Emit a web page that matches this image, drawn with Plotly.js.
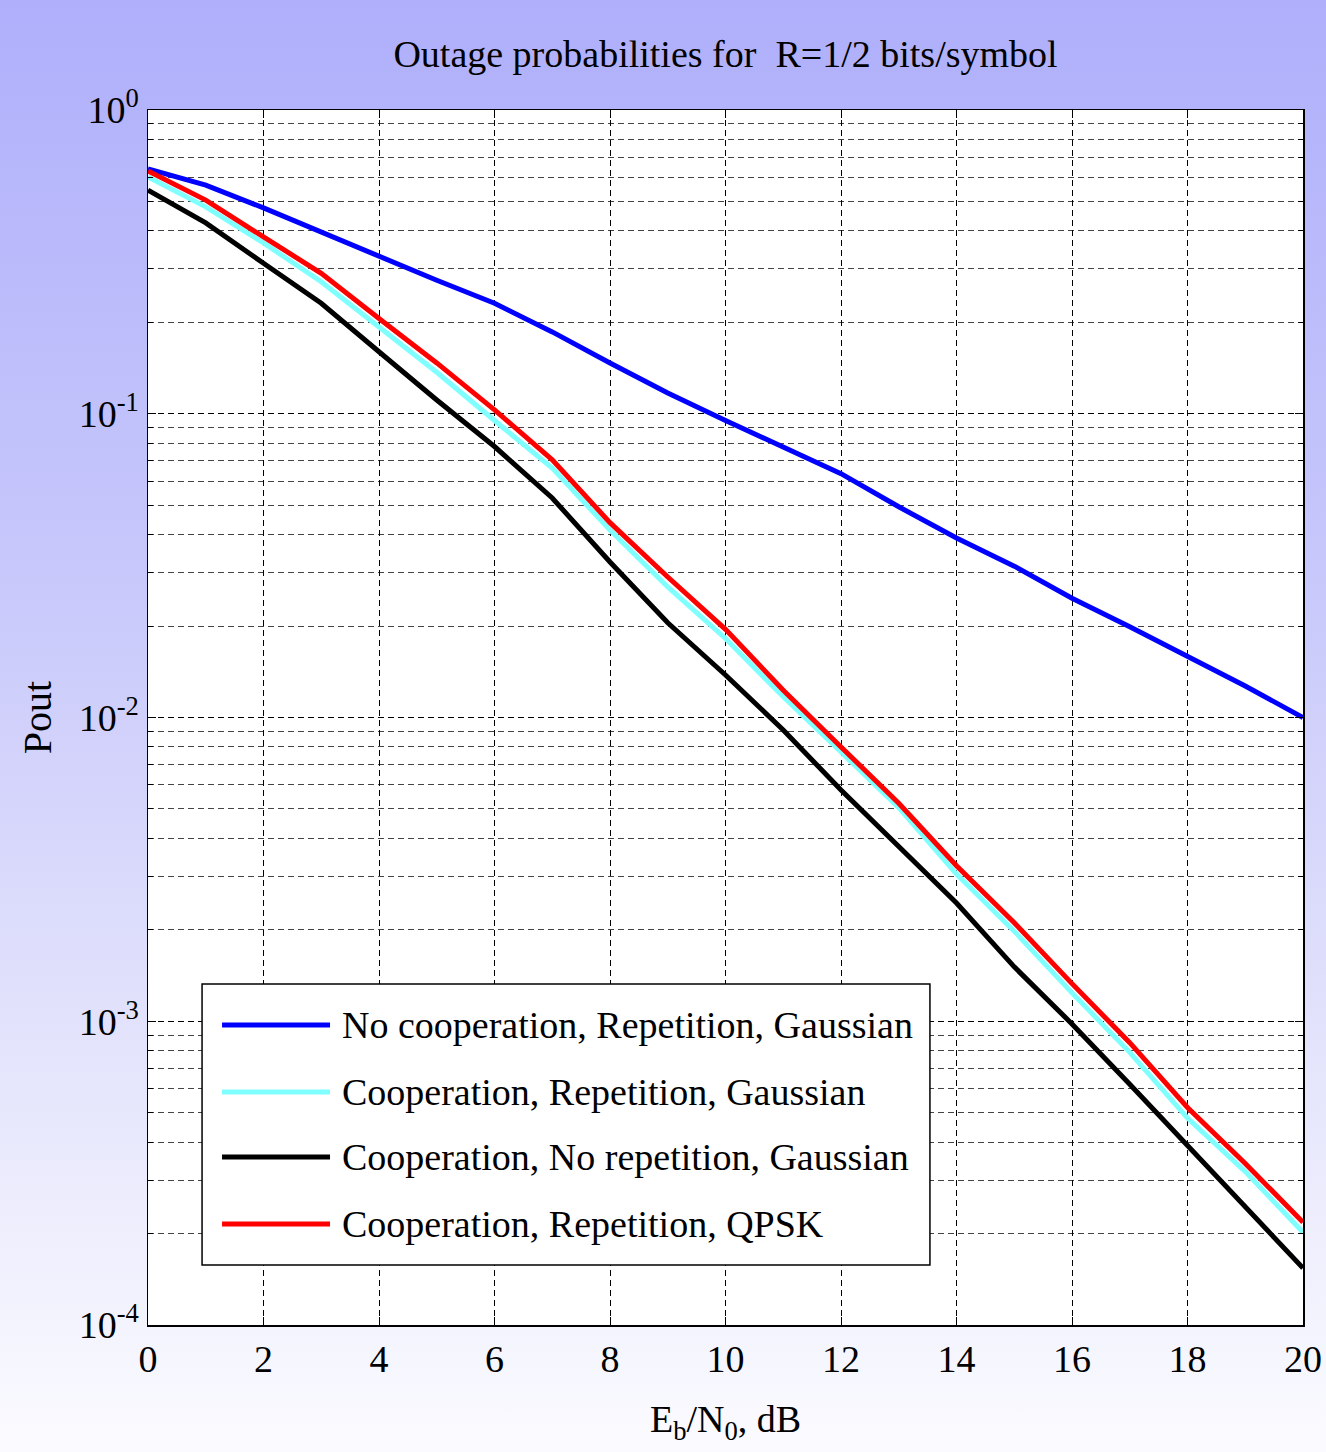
<!DOCTYPE html>
<html>
<head>
<meta charset="utf-8">
<script src="https://cdn.plot.ly/plotly-3.0.1.min.js"></script>
<style>
  html, body { margin: 0; padding: 0; }
  body { width: 1326px; height: 1452px; background: linear-gradient(to bottom, #afaffb 0%, #c8c8fb 40%, #e6e6fc 75%, #fbfbff 100%); }
  #chart { width: 1326px; height: 1452px; }
</style>
</head>
<body>
<div id="chart"></div>
<script>
// Eb/N0 in dB
const ebno = [0,1,2,3,4,5,6,7,8,9,10,11,12,13,14,15,16,17,18,19,20];

const seriesNames = [
  'No cooperation, Repetition, Gaussian',
  'Cooperation, Repetition, Gaussian',
  'Cooperation, No repetition, Gaussian',
  'Cooperation, Repetition, QPSK'
];
const seriesColors = ['#0000ff', '#80ffff', '#000000', '#ff0000'];

const noCoopRepGauss = [0.64,0.566,0.476,0.397,0.328,0.275,0.231,0.186,0.147,0.117,0.095,0.0778,0.0635,0.0494,0.039,0.0315,0.0247,0.0199,0.0159,0.0127,0.0100];
const coopRepGauss   = [0.602,0.48,0.365,0.272,0.193,0.137,0.095,0.0662,0.0414,0.0269,0.0182,0.0117,0.0077,0.00505,0.00305,0.00198,0.00124,0.00079,0.00048,0.00032,0.000202];
const coopNoRepGauss = [0.545,0.425,0.313,0.231,0.160,0.111,0.078,0.0528,0.0325,0.0205,0.0138,0.0091,0.00577,0.00375,0.00245,0.00151,0.00098,0.00062,0.00039,0.000247,0.000154];
const coopRepQPSK    = [0.63,0.505,0.382,0.29,0.206,0.147,0.103,0.0705,0.0438,0.029,0.0195,0.0123,0.0080,0.00522,0.00325,0.00211,0.00133,0.00085,0.00052,0.00034,0.000218];

const xTickVals = [0,2,4,6,8,10,12,14,16,18,20];
const yTickVals = [1e-4,1e-3,1e-2,1e-1,1];
const yTickText = ['10<sup>-4</sup>','10<sup>-3</sup>','10<sup>-2</sup>','10<sup>-1</sup>','10<sup>0</sup>'];
const yMinorVals = [];
[1e-4,1e-3,1e-2,1e-1].forEach(d => { for (let k = 2; k <= 9; k++) yMinorVals.push(d*k); });

const titleText = 'Outage probabilities for  R=1/2 bits/symbol';
const xTitleText = 'E<sub>b</sub>/N<sub>0</sub>, dB';
const yTitleText = 'Pout';

const allSeries = [noCoopRepGauss, coopRepGauss, coopNoRepGauss, coopRepQPSK];
const FONT = 'Liberation Serif, Times New Roman, serif';

const traces = allSeries.map((vals, i) => ({
  x: ebno, y: vals, type: 'scatter', mode: 'lines',
  name: seriesNames[i],
  line: { color: seriesColors[i], width: 5 },
  showlegend: false
}));

// custom legend (box, sample lines, labels) in paper coordinates
const legX0 = 0.0468, legX1 = 0.677, legY0 = 0.0494, legY1 = 0.2807;
const legRows = [0.2469, 0.1918, 0.1383, 0.0831];
const shapes = [{
  type: 'rect', xref: 'paper', yref: 'paper', x0: legX0, x1: legX1, y0: legY0, y1: legY1,
  line: { color: '#000', width: 1.5 }, fillcolor: '#fff', layer: 'above'
}];
const annotations = [];
seriesNames.forEach((nm, i) => {
  shapes.push({ type: 'line', xref: 'paper', yref: 'paper', x0: 0.0641, x1: 0.1576,
    y0: legRows[i], y1: legRows[i], line: { color: seriesColors[i], width: 5 }, layer: 'above' });
  annotations.push({ xref: 'paper', yref: 'paper', x: 0.1662, y: legRows[i], xanchor: 'left', yanchor: 'middle',
    text: nm, showarrow: false, font: { family: FONT, size: 38, color: '#000' } });
});

const gridDash = '6px,4px';
const layout = {
  width: 1326, height: 1452,
  paper_bgcolor: 'rgba(0,0,0,0)', plot_bgcolor: '#ffffff',
  margin: { l: 148, r: 23, t: 110, b: 127 },
  font: { family: FONT, color: '#000' },
  title: { text: titleText, font: { family: FONT, size: 38, color: '#000' },
    xref: 'paper', x: 0.5, xanchor: 'center', yref: 'container', y: 0.963, yanchor: 'middle' },
  xaxis: {
    range: [0, 20], tickvals: xTickVals, ticktext: xTickVals.map(String),
    showgrid: true, gridcolor: '#000', gridwidth: 1, griddash: gridDash,
    zeroline: false, showline: true, linecolor: '#000', linewidth: 1.5, mirror: 'ticks',
    ticks: 'inside', ticklen: 8, tickcolor: '#000',
    tickfont: { family: FONT, size: 38, color: '#000' },
    title: { text: xTitleText, font: { family: FONT, size: 38, color: '#000' }, standoff: 26 }
  },
  yaxis: {
    type: 'log', range: [-4, 0], tickvals: yTickVals, ticktext: yTickText,
    showgrid: true, gridcolor: '#000', gridwidth: 1, griddash: gridDash,
    zeroline: false, showline: true, linecolor: '#000', linewidth: 1.5, mirror: 'ticks',
    ticks: 'inside', ticklen: 8, tickcolor: '#000',
    tickfont: { family: FONT, size: 38, color: '#000' },
    minor: { tickmode: 'array', tickvals: yMinorVals, ticks: 'inside', ticklen: 5, tickcolor: '#000',
      showgrid: true, gridcolor: '#444', gridwidth: 1, griddash: gridDash },
    title: { text: yTitleText, font: { family: FONT, size: 40, color: '#000' }, standoff: 14 }
  },
  shapes: shapes,
  annotations: annotations
};

Plotly.newPlot('chart', traces, layout, { displayModeBar: false, staticPlot: true });
</script>
</body>
</html>
